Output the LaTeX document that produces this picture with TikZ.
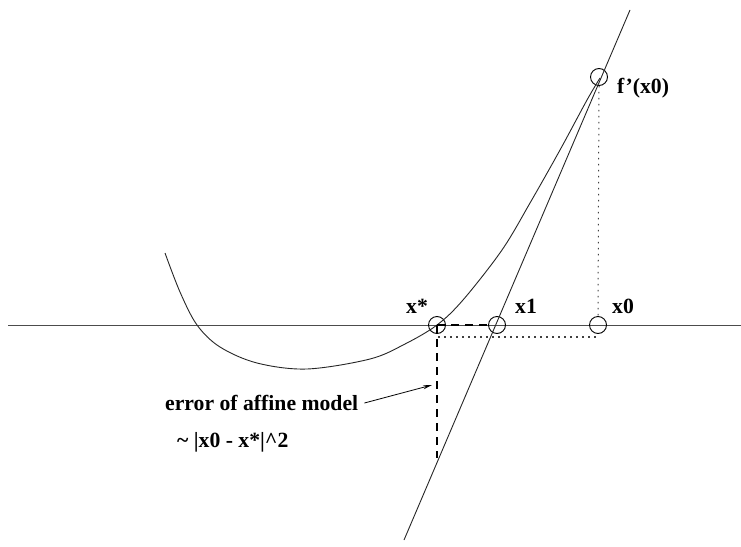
\documentclass[tikz,border=0pt]{standalone}
\usepackage{fontspec}
\setmainfont{Liberation Serif}
\usetikzlibrary{arrows.meta}
\begin{document}
\begin{tikzpicture}[x=1pt,y=-1pt,
  thin line/.style={line width=0.9pt,black!85},
  mark circle/.style={circle,draw,line width=0.9pt,minimum size=17pt,inner sep=0pt},
  lbl/.style={font=\bfseries\fontsize{21.7}{24}\selectfont,inner sep=0pt,anchor=base west},
  errdash/.style={line width=2pt,dash pattern=on 8pt off 6pt},
  dotline/.style={line width=1.5pt,dash pattern=on 1.5pt off 4.5pt,black!75}]
\useasboundingbox (0,0) rectangle (741,546);
% axis
\coordinate (axL) at (8,325);
\coordinate (axR) at (741,325);
\draw[line width=1pt,black!70] (axL) -- (axR);
% circles
\node[mark circle] (xs) at (437,325) {};
\node[mark circle] (x1) at (497,325) {};
\node[mark circle] (x0) at (598,325) {};
\node[mark circle] (fp) at (599,77) {};
% curve
\draw[thin line] plot[smooth,tension=0.55] coordinates {(165,253) (180,292) (197,325) (220,347) (257,363) (307,369) (370,359) (405,344) (437,325) (463,300) (502,250) (530,203) (560,150) (587,100) (600,78)};
% tangent
\coordinate (tT) at (630,10);
\coordinate (tB) at (404,540);
\draw[thin line] (tT) -- (tB);
% dotted
\coordinate (dA) at (438,337);
\coordinate (dB) at (598,337);
\draw[dotline] (dA) -- (dB);
\draw[dotline,line width=1pt] (fp.south) -- (x0.north);
% dashed error
\coordinate (eB) at (437,458);
\draw[errdash] (xs.center) -- (x1.west);
\draw[errdash] (xs.center) -- (eB);
% labels
\node[lbl] (lxs) at (406,313) {x*};
\node[lbl] (lx1) at (515,313) {x1};
\node[lbl] (lx0) at (612,313) {x0};
\node[lbl] (lfp) at (617,93) {f’(x0)};
\node[lbl] (err) at (165,410) {error of affine model};
\node[lbl] (sq) at (177,447) {\char`~\ |x0 - x*|\^{}2};
\coordinate (aT) at (432,385);
\draw[line width=0.8pt,-{Stealth[length=9pt,width=4pt]}] ([xshift=6pt]err.east |- 0,403) -- (aT);
\end{tikzpicture}
\end{document}
